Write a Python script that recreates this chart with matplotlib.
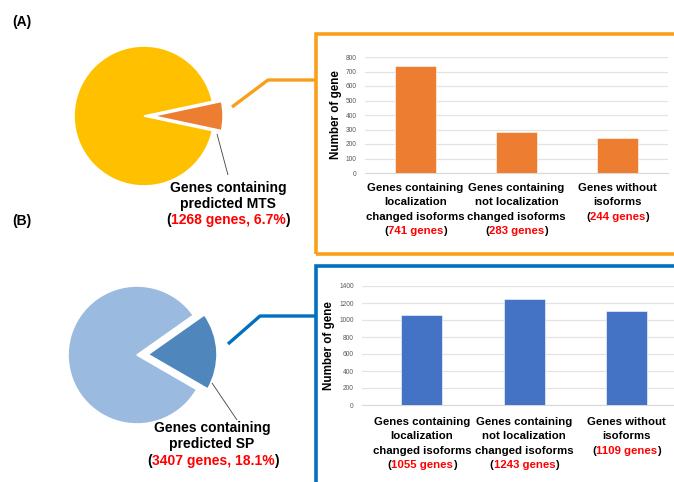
import matplotlib
matplotlib.use("Agg")
import matplotlib.pyplot as plt
from matplotlib.lines import Line2D
from matplotlib.patches import Rectangle

plt.rcParams["font.family"] = ["Liberation Sans", "DejaVu Sans"]

W, H = 674, 482

# panel A data
mts_share = [6.7, 93.3]
mts_labels = ["Genes containing", "predicted MTS"]
mts_count = "1268 genes, 6.7%"
a_categories = [
    ["Genes containing", "localization", "changed isoforms"],
    ["Genes containing", "not localization", "changed isoforms"],
    ["Genes without", "isoforms"],
]
a_values = [741, 283, 244]
a_ticks = [0, 100, 200, 300, 400, 500, 600, 700, 800]

# panel B data
sp_share = [18.1, 81.9]
sp_labels = ["Genes containing", "predicted SP"]
sp_count = "3407 genes, 18.1%"
b_values = [1055, 1243, 1109]
b_ticks = [0, 200, 400, 600, 800, 1000, 1200, 1400]

ORANGE_BAR = "#ED7D31"
BLUE_BAR = "#4472C4"
ORANGE_LINE = "#F9A01B"
BLUE_LINE = "#0070C0"
RED = "#FF0000"


def fx(x):
    return x / W


def fy(y):
    return 1 - y / H


def line_px(fig, xs, ys, color, lw):
    fig.add_artist(Line2D([fx(x) for x in xs], [fy(y) for y in ys],
                          color=color, lw=lw, solid_capstyle="butt"))


def mixed_line(fig, x_px, y_px, parts, size):
    r = fig.canvas.get_renderer()
    texts = [fig.text(0, 0, s, color=c, size=size, weight="bold",
                      ha="left", va="center") for s, c in parts]
    widths = [t.get_window_extent(r).width for t in texts]
    x = x_px - sum(widths) / 2
    for t, w in zip(texts, widths):
        t.set_position((fx(x), fy(y_px)))
        x += w


def count_line(fig, x_px, y_px, label, size):
    mixed_line(fig, x_px, y_px, [("(", "black"), (label, RED), (")", "black")], size)


def draw_pie(fig, cx, cy, radius, values, colors, start, explode):
    half = 95
    ax = fig.add_axes([fx(cx - half), fy(cy + half), 2 * half / W, 2 * half / H])
    ax.pie(values, colors=colors, startangle=start, explode=[explode, 0],
           wedgeprops=dict(edgecolor="white", linewidth=1.2))
    lim = half / radius
    ax.set_xlim(-lim, lim)
    ax.set_ylim(-lim, lim)
    ax.set_aspect("auto")
    ax.axis("off")


def draw_bars(fig, left, right, top, bottom, xmin, values, ticks, color, label_y, counts):
    ax = fig.add_axes([fx(left), fy(bottom), (right - left) / W, (bottom - top) / H])
    x = list(range(len(values)))
    ax.bar(x, values, width=0.4, color=color, edgecolor="white", linewidth=0.4, zorder=3)
    ax.set_xlim(xmin, 2.5)
    ax.set_ylim(ticks[0], ticks[-1])
    ax.set_yticks(ticks)
    ax.set_yticklabels([str(t) for t in ticks], fontsize=4.8, color="#595959")
    ax.set_xticks([])
    ax.tick_params(axis="y", length=0, pad=6)
    ax.grid(axis="y", color="#E3E3E3", lw=0.9, zorder=0)
    for s in ["top", "right", "left"]:
        ax.spines[s].set_visible(False)
    ax.spines["bottom"].set_color("#D9D9D9")
    ax.set_ylabel("Number of gene", fontsize=8.4, weight="bold", labelpad=3)

    fig.canvas.draw()
    for i, lines in enumerate(a_categories):
        xd = ax.transData.transform((i, 0))[0]
        for j, ln in enumerate(lines):
            fig.text(fx(xd), fy(label_y + j * 14.3), ln, ha="center", va="center",
                     size=8.2, weight="bold")
        count_line(fig, xd, label_y + len(lines) * 14.3, f"{counts[i]} genes", 8.2)
    return ax


fig = plt.figure(figsize=(W / 100, H / 100), dpi=100)

fig.text(fx(12), fy(22), "(A)", size=10, weight="bold", va="center")
fig.text(fx(12), fy(221), "(B)", size=10, weight="bold", va="center")

# frames
fig.add_artist(Rectangle((fx(316), fy(254)), fx(700 - 316), (254 - 34) / H,
                         fill=False, edgecolor=ORANGE_LINE, lw=2.6, clip_on=False))
fig.add_artist(Rectangle((fx(316), fy(520)), fx(700 - 316), (520 - 266) / H,
                         fill=False, edgecolor=BLUE_LINE, lw=2.6, clip_on=False))

# connectors
line_px(fig, [232, 268, 315], [107, 80, 80], ORANGE_LINE, 2.4)
line_px(fig, [228, 260, 315], [344, 316, 316], BLUE_LINE, 2.4)

# pies
draw_pie(fig, 144, 116, 70, mts_share, [ORANGE_BAR, "#FFC000"],
         -mts_share[0] * 3.6 / 2, 0.13)
draw_pie(fig, 137, 355, 69, sp_share, ["#4F87BC", "#9BBADF"], -30, 0.16)

# pie callouts
line_px(fig, [217, 228], [134, 175], "#404040", 0.6)
for j, ln in enumerate(mts_labels):
    fig.text(fx(228), fy(188 + j * 16.2), ln, ha="center", va="center",
             size=10, weight="bold")
count_line(fig, 228, 220.5, mts_count, 10)

line_px(fig, [212, 237], [383, 420], "#404040", 0.6)
for j, ln in enumerate(sp_labels):
    fig.text(fx(212), fy(428 + j * 16.2), ln, ha="center", va="center",
             size=10, weight="bold")
count_line(fig, 213, 460.5, sp_count, 10)

# bar charts
draw_bars(fig, 365, 668, 57, 173, -0.5, a_values, a_ticks, ORANGE_BAR, 188, a_values)
draw_bars(fig, 362, 678, 286, 405, -0.585, b_values, b_ticks, BLUE_BAR, 422, b_values)

fig.savefig("out.png", dpi=100)
